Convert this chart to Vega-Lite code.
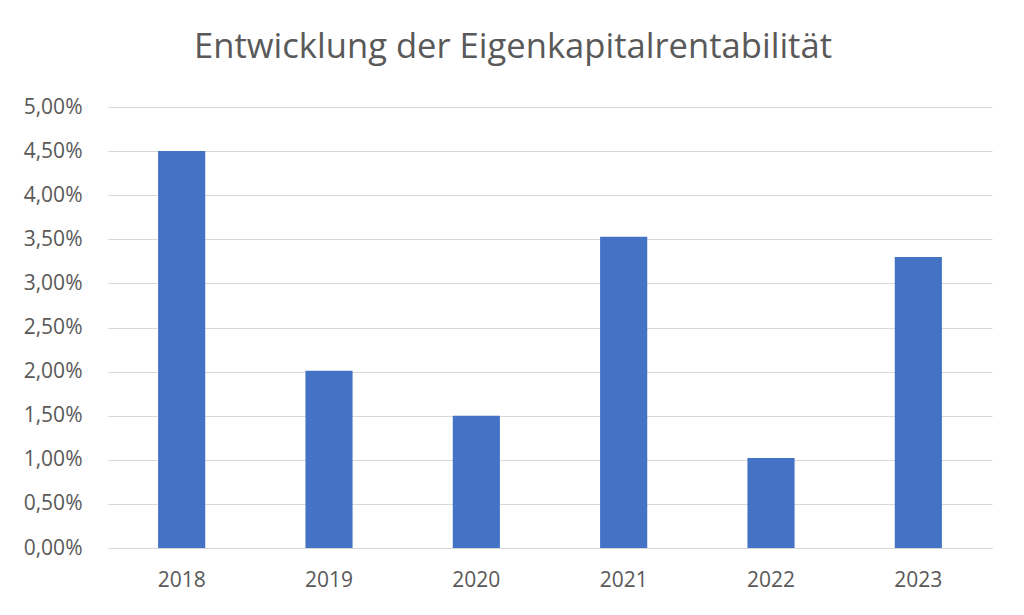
{
  "$schema": "https://vega.github.io/schema/vega-lite/v6.json",
  "width": 884,
  "height": 441,
  "autosize": {"type": "none"},
  "padding": {"left": 108, "top": 107, "right": 32, "bottom": 67},
  "background": "white",
  "title": {
    "text": "Entwicklung der Eigenkapitalrentabilität",
    "font": "Open Sans",
    "fontSize": 34.6,
    "fontWeight": "normal",
    "color": "#595959",
    "anchor": "middle",
    "dx": -37,
    "offset": 30
  },
  "config": {
    "locale": {"number": {"decimal": ",", "thousands": ".", "grouping": [3], "currency": ["", " €"]}},
    "view": {"stroke": null},
    "axis": {"labelFont": "Open Sans", "labelFontSize": 21, "labelColor": "#595959"}
  },
  "data": {
    "values": [
      {"Jahr": "2018", "Rendite": 0.045},
      {"Jahr": "2019", "Rendite": 0.0201},
      {"Jahr": "2020", "Rendite": 0.015},
      {"Jahr": "2021", "Rendite": 0.0353},
      {"Jahr": "2022", "Rendite": 0.0102},
      {"Jahr": "2023", "Rendite": 0.033}
    ]
  },
  "mark": {"type": "bar", "color": "#4472C4"},
  "encoding": {
    "x": {
      "field": "Jahr",
      "type": "nominal",
      "scale": {"paddingInner": 0.68, "paddingOuter": 0.34},
      "axis": {"title": null, "labelAngle": 0, "ticks": false, "domainColor": "#D9D9D9", "domainWidth": 1, "labelPadding": 21}
    },
    "y": {
      "field": "Rendite",
      "type": "quantitative",
      "scale": {"domain": [0, 0.05], "nice": false},
      "axis": {"title": null, "format": ".2%", "values": [0, 0.005, 0.01, 0.015, 0.02, 0.025, 0.03, 0.035, 0.04, 0.045, 0.05], "ticks": false, "domain": false, "gridColor": "#D9D9D9", "gridWidth": 1, "labelPadding": 26}
    }
  }
}
